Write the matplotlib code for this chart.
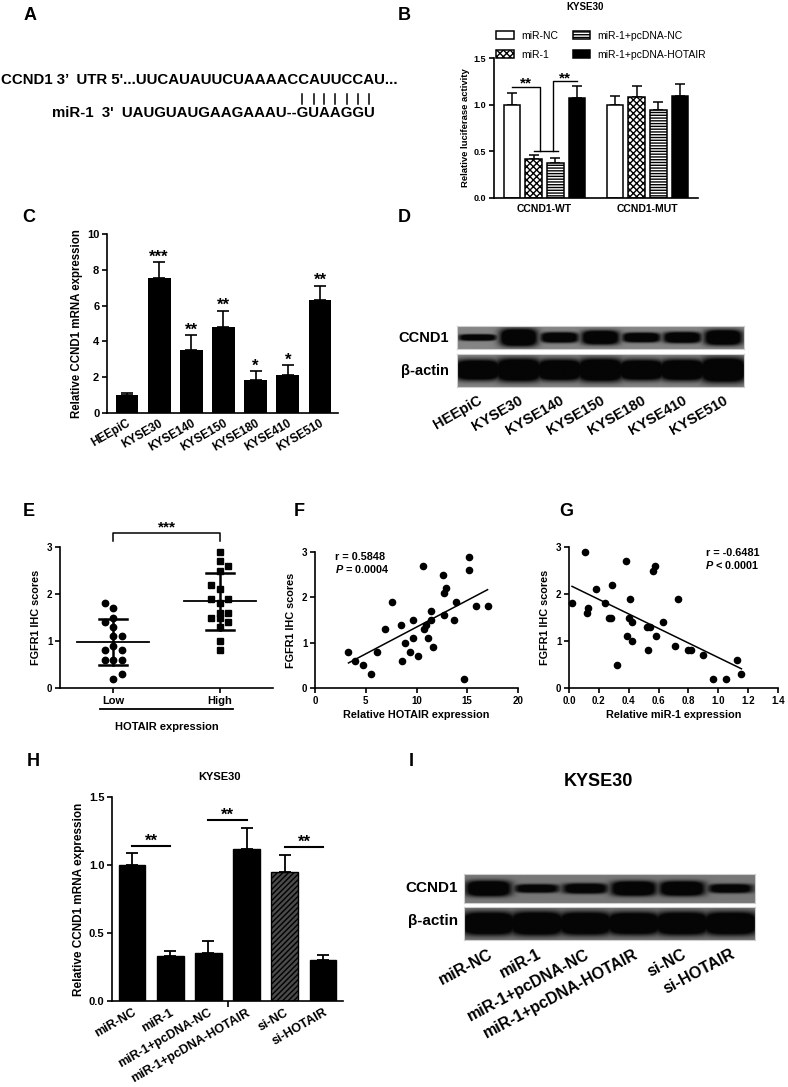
import numpy as np
import matplotlib
matplotlib.use("Agg")
import matplotlib.pyplot as plt
import matplotlib.transforms as mtrans
from matplotlib.patches import Patch

W, H = 788, 1087
plt.rcParams["font.family"] = ["Liberation Sans", "DejaVu Sans"]
plt.rcParams["font.weight"] = "bold"
plt.rcParams["axes.labelweight"] = "bold"
plt.rcParams["axes.linewidth"] = 1.2
plt.rcParams["hatch.linewidth"] = 1.0
plt.rcParams["mathtext.fontset"] = "custom"
plt.rcParams["mathtext.it"] = "Liberation Sans:italic:bold"
plt.rcParams["mathtext.rm"] = "Liberation Sans:bold"

# ---- A: sequences
utr_seq = "CCND1 3\u2019  UTR 5'...UUCAUAUUCUAAAACCAUUCCAU..."
mir_seq = "miR-1  3'  UAUGUAUGAAGAAAU--GUAAGGU"
n_pairs = 7  # last 7 nt of miR-1 paired

# ---- B: luciferase
b_groups = ["CCND1-WT", "CCND1-MUT"]
b_series = ["miR-NC", "miR-1", "miR-1+pcDNA-NC", "miR-1+pcDNA-HOTAIR"]
b_mean = [[1.00, 1.00], [0.42, 1.08], [0.38, 0.94], [1.07, 1.09]]
b_err = [[0.12, 0.09], [0.04, 0.12], [0.05, 0.09], [0.13, 0.13]]

# ---- C: CCND1 mRNA in cell lines
c_lines = ["HEEpiC", "KYSE30", "KYSE140", "KYSE150", "KYSE180", "KYSE410", "KYSE510"]
c_mean = [1.02, 7.53, 3.53, 4.83, 1.84, 2.14, 6.33]
c_err = [0.12, 0.88, 0.80, 0.88, 0.48, 0.52, 0.78]
c_sig = ["", "***", "**", "**", "*", "*", "**"]

# ---- D: western blot (band darkness / thickness per lane)
d_ccnd1_dark = [0.95, 1.0, 1.0, 1.0, 1.0, 1.0, 1.0]
d_ccnd1_thick = [0.28, 0.78, 0.45, 0.62, 0.42, 0.48, 0.68]
d_actin_dark = [1.0, 1.0, 1.0, 1.0, 1.0, 1.0, 1.0]
d_actin_thick = [0.62, 0.70, 0.64, 0.70, 0.62, 0.64, 0.75]

# ---- E: FGFR1 IHC scores by HOTAIR group
e_low = [1.8, 1.7, 1.5, 1.4, 1.3, 1.1, 1.1, 0.9, 0.8, 0.8, 0.6, 0.6, 0.6, 0.3, 0.2]
e_low_col = [-1, 0, 0, -1, 0, 0, 1, 0, -1, 1, -1, 0, 1, 1, 0]
e_high = [2.9, 2.7, 2.6, 2.5, 2.2, 2.1, 1.9, 1.8, 1.9, 1.6, 1.6, 1.5, 1.5, 1.4, 1.3, 1.0, 0.8]
e_high_col = [0, 0, 1, 0, -1, 0, -1, 0, 1, 0, 1, -1, 0, 1, 0, 0, 0]

# ---- F: HOTAIR vs FGFR1
f_x = [3.3, 3.9, 4.7, 5.5, 6.1, 6.9, 7.6, 8.5, 8.6, 8.9, 9.4, 9.7, 9.7, 10.1, 10.6, 10.7,
       10.9, 11.1, 11.4, 11.4, 11.6, 12.6, 12.7, 12.9, 12.7, 13.7, 13.9, 14.7, 15.2, 15.2,
       15.9, 17.0]
f_y = [0.8, 0.6, 0.5, 0.3, 0.8, 1.3, 1.9, 1.4, 0.6, 1.0, 0.8, 1.5, 1.1, 0.7, 2.7, 1.3,
       1.4, 1.1, 1.5, 1.7, 0.9, 2.5, 2.1, 2.2, 1.6, 1.5, 1.9, 0.2, 2.9, 2.6, 1.8, 1.8]

# ---- G: miR-1 vs FGFR1
g_x = [0.02, 0.11, 0.12, 0.13, 0.18, 0.24, 0.27, 0.28, 0.29, 0.32, 0.38, 0.39, 0.40, 0.41,
       0.42, 0.42, 0.52, 0.54, 0.53, 0.565, 0.575, 0.58, 0.63, 0.71, 0.73, 0.795, 0.815,
       0.895, 0.965, 1.055, 1.125, 1.155]
g_y = [1.8, 2.9, 1.6, 1.7, 2.1, 1.8, 1.5, 1.5, 2.2, 0.5, 2.7, 1.1, 1.5, 1.9, 1.4, 1.0,
       1.3, 1.3, 0.8, 2.5, 2.6, 1.1, 1.4, 0.9, 1.9, 0.8, 0.8, 0.7, 0.2, 0.2, 0.6, 0.3]

# ---- H: CCND1 mRNA in KYSE30
h_groups = ["miR-NC", "miR-1", "miR-1+pcDNA-NC", "miR-1+pcDNA-HOTAIR", "si-NC", "si-HOTAIR"]
h_mean = [1.00, 0.33, 0.355, 1.12, 0.95, 0.30]
h_err = [0.09, 0.035, 0.085, 0.15, 0.12, 0.04]
h_sig = [(0, 1, 1.14), (2, 3, 1.33), (4, 5, 1.13)]

# ---- I: western blot KYSE30
i_ccnd1_dark = [1.0, 0.85, 0.9, 1.0, 1.0, 0.85]
i_ccnd1_thick = [0.55, 0.30, 0.36, 0.52, 0.52, 0.32]
i_actin_dark = [1.0, 1.0, 1.0, 1.0, 1.0, 1.0]
i_actin_thick = [0.72, 0.74, 0.72, 0.70, 0.72, 0.72]


fig = plt.figure(figsize=(W / 100, H / 100), dpi=100)
ov = fig.add_axes([0, 0, 1, 1])
ov.set_xlim(0, W)
ov.set_ylim(H, 0)
ov.axis("off")


def add_ax(l, t, r, b):
    ax = fig.add_axes([l / W, 1 - b / H, (r - l) / W, (b - t) / H])
    ax.patch.set_alpha(0)
    return ax


def style(ax, fs=7):
    for s in ["top", "right"]:
        ax.spines[s].set_visible(False)
    ax.tick_params(direction="out", length=3.5, width=1.2, labelsize=fs, pad=2)


def blot(ax, dark, thick, spread=0.47, bg=0.47):
    n = len(dark)
    x = np.linspace(0, n, 500)
    y = np.linspace(-1, 1, 80)
    img = np.zeros((80, 500))
    for i, (d, t) in enumerate(zip(dark, thick)):
        px = np.exp(-np.abs((x - (i + 0.5)) / spread) ** 4)
        py = np.exp(-np.abs(y / t) ** 3.5)
        img = np.maximum(img, d * np.outer(py, px))
    shade = bg * (1 - np.clip(img * 1.7, 0, 1)) + 0.02
    ax.imshow(shade, cmap="gray", vmin=0, vmax=1, extent=(0, n, 0, 1),
              aspect="auto", interpolation="bilinear")
    ax.set_xlim(0, n)
    ax.set_ylim(0, 1)
    ax.set_xticks([])
    ax.set_yticks([])
    for s in ax.spines.values():
        s.set_color("#cfcfcf")
        s.set_linewidth(0.8)


def star(ax, x, y, s, fs=12):
    ax.annotate(s, (x, y), xytext=(0, 0), textcoords="offset points",
                ha="center", va="baseline", fontsize=fs, annotation_clip=False)


# panel letters
for lab, (px, py) in {"A": (30, 15), "B": (404, 15), "C": (29, 217), "D": (404, 217),
                      "E": (29, 512), "F": (299, 512), "G": (566, 512),
                      "H": (33, 761), "I": (411, 761)}.items():
    ov.text(px, py, lab, fontsize=13, ha="center", va="center")

# ---------------- A
ta = ov.text(1, 80, utr_seq, fontsize=10.8, ha="left", va="center")
tb = ov.text(52, 113, mir_seq, fontsize=10.8, ha="left", va="center")
renderer = fig.canvas.get_renderer()
prop = tb.get_fontproperties()
for i in range(len(mir_seq) - n_pairs, len(mir_seq)):
    w1, _, _ = renderer.get_text_width_height_descent(mir_seq[:i + 1], prop, ismath=False)
    wc, _, _ = renderer.get_text_width_height_descent(mir_seq[i], prop, ismath=False)
    xc = 52 + w1 - wc / 2
    ov.plot([xc, xc], [94, 104], color="k", lw=1.1)

# ---------------- B
axB = add_ax(494, 58, 698, 198)
style(axB, 6.5)
b_faces = ["white", "white", "white", "black"]
b_hatch = [None, "xxxxx", "------", None]
grp_x = np.array([0.0, 4.75])
offs = [-1.5, -0.5, 0.5, 1.5]
for k in range(4):
    xs = grp_x + offs[k]
    axB.bar(xs, b_mean[k], width=0.78, color=b_faces[k], edgecolor="k",
            hatch=b_hatch[k], linewidth=1.1, zorder=2)
    axB.errorbar(xs, b_mean[k], yerr=[np.zeros(2), b_err[k]], fmt="none", ecolor="k",
                 elinewidth=1.1, capsize=3.5, capthick=1.1, zorder=1)
axB.set_xlim(-2.33, 7.08)
axB.set_ylim(0, 1.5)
axB.set_yticks([0, 0.5, 1.0, 1.5])
axB.set_yticklabels(["0.0", "0.5", "1.0", "1.5"])
axB.set_xticks(grp_x)
axB.set_xticklabels(b_groups, fontsize=7.5)
axB.tick_params(axis="x", length=0, pad=4)
axB.set_ylabel("Relative luciferase activity", fontsize=6.8, labelpad=3)
# significance brackets
h1, h2, hj = 1.19, 1.25, 0.50
j1, j2 = -0.2, 0.4
axB.plot([offs[0], j1, j1], [h1, h1, hj], color="k", lw=1.0)
axB.plot([offs[1], offs[2] + 0.1], [hj, hj], color="k", lw=1.0)
axB.plot([j2, j2, offs[3]], [hj, h2, h2], color="k", lw=1.0)
star(axB, (offs[0] + j1) / 2, h1 - 0.01, "**", 11)
star(axB, (j2 + offs[3]) / 2, h2 - 0.01, "**", 11)
ov.text(585, 7, "KYSE30", fontsize=7, ha="center", va="center")
handles = [Patch(facecolor=b_faces[k], edgecolor="k", hatch=b_hatch[k], linewidth=1.1)
           for k in range(4)]
fig.legend(handles, b_series, loc="upper left", bbox_to_anchor=(496 / W, 1 - 31 / H),
           ncol=2, frameon=False, prop={"weight": "normal", "size": 7.5},
           handlelength=1.7, handleheight=0.8, handletextpad=0.7, labelspacing=0.85,
           columnspacing=1.4, borderpad=0, borderaxespad=0)

# ---------------- C
axC = add_ax(107, 234, 338, 413)
style(axC, 8)
xc_ = np.arange(len(c_lines))
axC.bar(xc_, c_mean, width=0.71, color="k", zorder=2)
axC.errorbar(xc_, c_mean, yerr=[np.zeros(len(c_mean)), c_err], fmt="none", ecolor="k",
             elinewidth=1.2, capsize=4, capthick=1.2, zorder=1)
for x, m, e, s in zip(xc_, c_mean, c_err, c_sig):
    if s:
        star(axC, x, m + e + 0.05, s, 12)
axC.set_xlim(-0.62, 6.56)
axC.set_ylim(0, 10)
axC.set_yticks(range(0, 11, 2))
axC.set_xticks(xc_)
axC.set_xticklabels(c_lines, rotation=30, ha="right", rotation_mode="anchor", fontsize=8.5)
off = mtrans.ScaledTranslation(5 / 72, 0, fig.dpi_scale_trans)
for lbl in axC.get_xticklabels():
    lbl.set_transform(lbl.get_transform() + off)
axC.tick_params(axis="x", length=0, pad=3)
axC.set_ylabel("Relative CCND1 mRNA expression", fontsize=8.3, labelpad=3)

# ---------------- D
axD1 = add_ax(457, 326, 744, 349)
axD2 = add_ax(457, 354, 744, 387)
blot(axD1, d_ccnd1_dark, d_ccnd1_thick, 0.46, 0.50)
blot(axD2, d_actin_dark, d_actin_thick, 0.58, 0.50)
ov.text(449, 338, "CCND1", fontsize=10.5, ha="right", va="center")
ov.text(449, 371, "\u03b2-actin", fontsize=10.5, ha="right", va="center")
trD = mtrans.blended_transform_factory(axD2.transData, axD2.transAxes)
for i, lab in enumerate(c_lines):
    axD2.text(i + 0.5, -0.18, lab, transform=trD, rotation=30, ha="right", va="top",
              rotation_mode="anchor", fontsize=10.5)

# ---------------- E
axE = add_ax(60, 547, 273, 688)
style(axE, 7)
step = 0.078
for grp, vals, cols, mk in [(1, e_low, e_low_col, "o"), (2, e_high, e_high_col, "s")]:
    vals = np.array(vals)
    axE.plot(grp + step * np.array(cols), vals, mk, color="k", ms=4.6, ls="none",
             clip_on=False)
    m, sd = vals.mean(), vals.std(ddof=1)
    axE.plot([grp - 0.34, grp + 0.34], [m, m], color="k", lw=1.3)
    axE.plot([grp - 0.13, grp + 0.13], [m - sd, m - sd], color="k", lw=1.8)
    axE.plot([grp - 0.13, grp + 0.13], [m + sd, m + sd], color="k", lw=1.8)
    axE.plot([grp, grp], [m - sd, m + sd], color="k", lw=1.8)
axE.set_xlim(0.5, 2.5)
axE.set_ylim(0, 3)
axE.set_yticks([0, 1, 2, 3])
axE.set_xticks([1, 2])
axE.set_xticklabels(["Low", "High"], fontsize=8)
axE.plot([1, 1, 2, 2], [3.13, 3.3, 3.3, 3.13], color="k", lw=1.1, clip_on=False)
star(axE, 1.5, 3.33, "***", 11)
trE = mtrans.blended_transform_factory(axE.transData, axE.transAxes)
axE.plot([0.88, 2.12], [-0.15, -0.15], color="k", lw=1.3, transform=trE, clip_on=False)
axE.set_xlabel("HOTAIR expression", fontsize=8, labelpad=12)
axE.set_ylabel("FGFR1 IHC scores", fontsize=7.8, labelpad=4)

# ---------------- F
axF = add_ax(315, 552, 518, 688)
style(axF, 7)
axF.scatter(f_x, f_y, s=20, color="k", zorder=3, clip_on=False)
cf = np.polyfit(f_x, f_y, 1)
xx = np.array([min(f_x), max(f_x)])
axF.plot(xx, np.polyval(cf, xx), color="k", lw=1.1)
axF.set_xlim(0, 20)
axF.set_ylim(0, 3)
axF.set_xticks([0, 5, 10, 15, 20])
axF.set_yticks([0, 1, 2, 3])
axF.text(0.1, 0.965, "r = 0.5848", transform=axF.transAxes, fontsize=7.8, va="center")
axF.text(0.1, 0.875, "$P$ = 0.0004", transform=axF.transAxes, fontsize=7.8, va="center")
axF.set_xlabel("Relative HOTAIR expression", fontsize=7.8, labelpad=3)
axF.set_ylabel("FGFR1 IHC scores", fontsize=7.8, labelpad=4)

# ---------------- G
axG = add_ax(569, 547, 778, 688)
style(axG, 7)
axG.scatter(g_x, g_y, s=20, color="k", zorder=3, clip_on=False)
cg = np.polyfit(g_x, g_y, 1)
xx = np.array([min(g_x), max(g_x)])
axG.plot(xx, np.polyval(cg, xx), color="k", lw=1.1)
axG.set_xlim(0, 1.4)
axG.set_ylim(0, 3)
axG.set_xticks(np.arange(0, 1.41, 0.2))
axG.set_xticklabels([f"{v:.1f}" for v in np.arange(0, 1.41, 0.2)])
axG.set_yticks([0, 1, 2, 3])
axG.text(0.91, 0.957, "r = -0.6481", transform=axG.transAxes, fontsize=7.8,
         va="center", ha="right")
axG.text(0.91, 0.872, "$P$ < 0.0001", transform=axG.transAxes, fontsize=7.8,
         va="center", ha="right")
axG.set_xlabel("Relative miR-1 expression", fontsize=7.8, labelpad=3)
axG.set_ylabel("FGFR1 IHC scores", fontsize=7.8, labelpad=4)

# ---------------- H
axH = add_ax(112, 797, 343, 1001)
style(axH, 8)
xh = np.arange(len(h_groups))
h_face = ["k", "k", "k", "k", "#4a4a4a", "k"]
h_hatch = [None, None, None, None, "//////", None]
for x, m, fc, ht in zip(xh, h_mean, h_face, h_hatch):
    axH.bar(x, m, width=0.7, color=fc, edgecolor="k", hatch=ht, linewidth=1.0, zorder=2)
axH.errorbar(xh, h_mean, yerr=[np.zeros(len(h_mean)), h_err], fmt="none", ecolor="k",
             elinewidth=1.3, capsize=4.5, capthick=1.3, zorder=1)
for i, j, y in h_sig:
    axH.plot([i, j], [y, y], color="k", lw=1.5)
    star(axH, (i + j) / 2, y + 0.005, "**", 12)
axH.set_xlim(-0.52, 5.52)
axH.set_ylim(0, 1.5)
axH.set_yticks([0, 0.5, 1.0, 1.5])
axH.set_yticklabels(["0.0", "0.5", "1.0", "1.5"])
axH.set_xticks(xh)
axH.set_xticklabels(h_groups, rotation=30, ha="right", rotation_mode="anchor", fontsize=9)
axH.tick_params(axis="x", length=0, pad=4)
axH.set_xticks([2.5], minor=True)
axH.tick_params(axis="x", which="minor", length=4, width=1.2, direction="out")
axH.set_ylabel("Relative CCND1 mRNA expression", fontsize=8.5, labelpad=3)
ov.text(220, 777, "KYSE30", fontsize=8, ha="center", va="center")

# ---------------- I
ov.text(598, 781, "KYSE30", fontsize=13, ha="center", va="center")
axI1 = add_ax(464, 874, 755, 903)
axI2 = add_ax(464, 907, 755, 940)
blot(axI1, i_ccnd1_dark, i_ccnd1_thick, 0.47, 0.45)
blot(axI2, i_actin_dark, i_actin_thick, 0.58, 0.45)
ov.text(458, 888, "CCND1", fontsize=11, ha="right", va="center")
ov.text(458, 921, "\u03b2-actin", fontsize=11, ha="right", va="center")
trI = mtrans.blended_transform_factory(axI2.transData, axI2.transAxes)
for i, lab in enumerate(h_groups):
    axI2.text(i + 0.5, -0.2, lab, transform=trI, rotation=28, ha="right", va="top",
              rotation_mode="anchor", fontsize=11.5)

fig.savefig("out.png", dpi=100)
